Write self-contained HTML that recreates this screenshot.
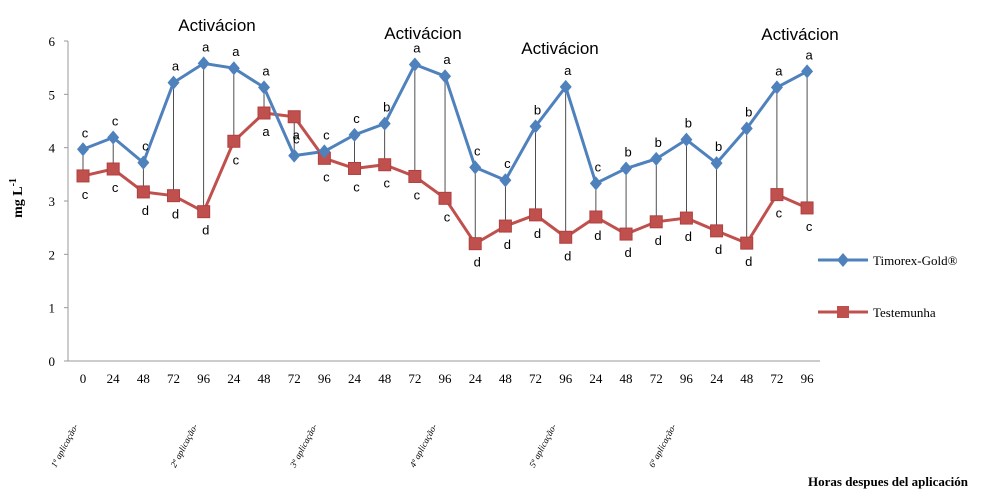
<!DOCTYPE html>
<html><head><meta charset="utf-8"><style>
body{margin:0;background:#fff;width:982px;height:502px;overflow:hidden}
svg{display:block}
.t{font-family:"Liberation Serif",serif}
.s{font-family:"Liberation Sans",sans-serif}
</style></head><body>
<svg id="c" width="982" height="502"></svg>
<script>
const categories=["0","24","48","72","96","24","48","72","96","24","48","72","96","24","48","72","96","24","48","72","96","24","48","72","96"];
const timorex=[3.97,4.19,3.72,5.22,5.58,5.49,5.13,3.85,3.93,4.24,4.45,5.56,5.34,3.63,3.39,4.40,5.14,3.33,3.61,3.79,4.15,3.71,4.36,5.13,5.43];
const testemunha=[3.47,3.60,3.17,3.10,2.80,4.12,4.65,4.58,3.80,3.61,3.68,3.46,3.05,2.20,2.53,2.74,2.32,2.70,2.38,2.61,2.68,2.44,2.21,3.12,2.87];
const timorexLetters=["c","c","c","a","a","a","a","c","c","c","b","a","a","c","c","b","a","c","b","b","b","b","b","a","a"];
const testemunhaLetters=["c","c","d","d","d","c","a","a","c","c","c","c","c","d","d","d","d","d","d","d","d","d","d","c","c"];
const yTicks=[0,1,2,3,4,5,6];
const applications=["1ª aplicação-","2ª aplicação-","3ª aplicação-","4ª aplicação-","5ª aplicação-","6ª aplicação-"];
const NS="http://www.w3.org/2000/svg";
const svg=document.getElementById("c");
const x0=83,dx=30.17,yBase=361,yTop=41;
const X=i=>x0+i*dx;
const Y=v=>yBase-(v/6)*(yBase-yTop);
function el(tag,attrs,txt){const e=document.createElementNS(NS,tag);for(const k in attrs)e.setAttribute(k,attrs[k]);if(txt!==undefined)e.textContent=txt;svg.appendChild(e);return e;}
// axes
let a=el("line",{x1:68,y1:yTop,x2:68,y2:yBase,stroke:"#999","stroke-width":1});


a=el("line",{x1:68,y1:yBase,x2:820,y2:yBase,stroke:"#999","stroke-width":1});


yTicks.forEach(v=>{
 let t=el("line",{x1:64,y1:Y(v),x2:68,y2:Y(v),stroke:"#999"});
 
 
 let l=el("text",{x:55,y:Y(v)+5,"text-anchor":"end",class:"t","font-size":"13"},v);
 
 
});
categories.forEach((c,i)=>{
 let l=el("text",{x:X(i),y:383,"text-anchor":"middle",class:"t","font-size":"13"},c);
 
 
 let d=el("line",{x1:X(i),y1:Y(timorex[i]),x2:X(i),y2:Y(testemunha[i]),stroke:"#222","stroke-width":0.8});
 
 
});
// series
let p=el("polyline",{points:testemunha.map((v,i)=>X(i)+","+Y(v)).join(" "),fill:"none",stroke:"#c0504d","stroke-width":3});


p=el("polyline",{points:timorex.map((v,i)=>X(i)+","+Y(v)).join(" "),fill:"none",stroke:"#4f81bd","stroke-width":3});


testemunha.forEach((v,i)=>{
 let r=el("rect",{x:X(i)-6,y:Y(v)-6,width:12,height:12,fill:"#c0504d",stroke:"#b04040"});
 
 
 let l=el("text",{x:X(i)+2,y:Y(v)+23,"text-anchor":"middle",class:"s","font-size":"13"},testemunhaLetters[i]);
 
 
});
timorex.forEach((v,i)=>{
 let d=el("path",{d:`M${X(i)} ${Y(v)-7}L${X(i)+6} ${Y(v)}L${X(i)} ${Y(v)+7}L${X(i)-6} ${Y(v)}Z`,fill:"#4f81bd"});
 
 
 let l=el("text",{x:X(i)+2,y:Y(v)-12,"text-anchor":"middle",class:"s","font-size":"13"},timorexLetters[i]);
 
 
});
// activation labels
[[217,31],[423,39],[560,54],[800,40]].forEach(q=>{
 let l=el("text",{x:q[0],y:q[1],"text-anchor":"middle",class:"s","font-size":"17"},"Activácion");
 
 
});
// application labels
applications.forEach((s,i)=>{
 const cx=67+i*119.6;
 let l=el("text",{x:0,y:0,"text-anchor":"middle",class:"t","font-size":"9","font-style":"italic",transform:`translate(${cx},447) rotate(-62)`},s);
 
 
});
// axis titles
let yt=el("text",{x:0,y:0,"text-anchor":"middle",class:"t","font-size":"14","font-weight":"bold",transform:"translate(22,198) rotate(-90)"},"mg L");


let sup=document.createElementNS(NS,"tspan");sup.setAttribute("dy","-6");sup.setAttribute("font-size","10");sup.textContent="-1";yt.appendChild(sup);
let xt=el("text",{x:968,y:486,"text-anchor":"end",class:"t","font-size":"13","font-weight":"bold"},"Horas despues del aplicación");


// legend
let g=el("line",{x1:818,y1:260,x2:868,y2:260,stroke:"#4f81bd","stroke-width":3});


g=el("path",{d:"M843 253L849 260L843 267L837 260Z",fill:"#4f81bd"});


g=el("text",{x:873,y:265,class:"t","font-size":"13"},"Timorex-Gold®");


g=el("line",{x1:818,y1:312,x2:868,y2:312,stroke:"#c0504d","stroke-width":3});


g=el("rect",{x:837,y:306,width:12,height:12,fill:"#c0504d"});


g=el("text",{x:873,y:317,class:"t","font-size":"13"},"Testemunha");


</script>
</body></html>
